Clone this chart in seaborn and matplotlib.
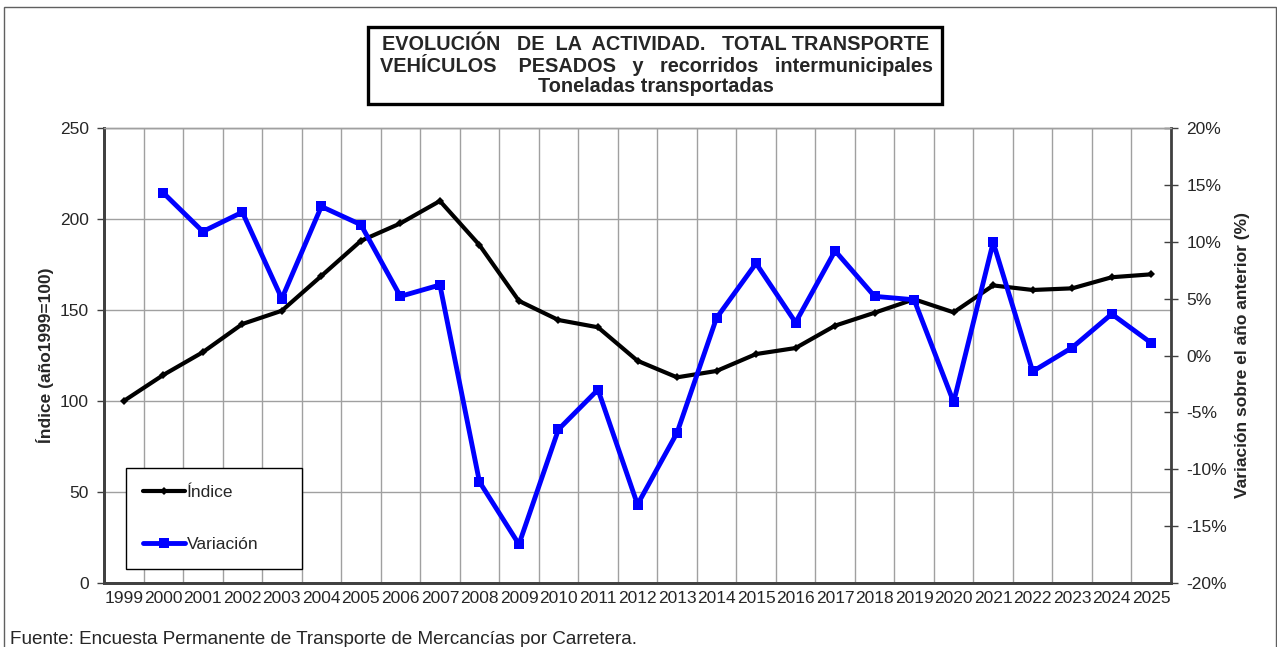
import numpy as np
import pandas as pd
import matplotlib
matplotlib.use("Agg")
import matplotlib.pyplot as plt
import matplotlib.patches as mpatches
from matplotlib.ticker import FuncFormatter, MultipleLocator
import seaborn as sns

# Data
years = list(range(1999, 2026))
indice = [100, 114.3, 126.8, 142.3, 149.6, 168.7, 188.0, 197.6, 209.9, 185.7,
          155.0, 144.5, 140.5, 122.1, 113.0, 116.5, 125.8, 129.1, 141.4, 148.5,
          155.9, 148.7, 163.5, 161.0, 161.9, 168.0, 169.6]
variacion = [np.nan, 14.3, 10.9, 12.6, 5.0, 13.1, 11.5, 5.2, 6.2, -11.1,
             -16.6, -6.5, -3.0, -13.1, -6.8, 3.3, 8.1, 2.9, 9.2, 5.2,
             4.9, -4.1, 9.95, -1.4, 0.7, 3.65, 1.1]

df = pd.DataFrame({"pos": np.arange(len(years)), "year": years,
                   "indice": indice, "variacion": variacion})

sns.set_theme(style="white")
plt.rcParams["font.family"] = ["Liberation Sans", "DejaVu Sans"]

fig = plt.figure(figsize=(12.77, 6.47), dpi=100)
ax = fig.add_axes([104 / 1277, 64 / 647, 1067 / 1277, 455 / 647])
ax2 = ax.twinx()

grid_col = "#a0a0a0"
axis_col = "#404040"
fs = 12.5

# Index line (left axis)
sns.lineplot(data=df, x="pos", y="indice", ax=ax, color="black", lw=3,
             marker="D", markersize=4, markeredgewidth=0, label="Índice",
             legend=False, zorder=3)
# Variation line (right axis)
sns.lineplot(data=df.dropna(), x="pos", y="variacion", ax=ax2, color="#0000ff",
             lw=3.5, marker="s", markersize=7, markeredgewidth=0,
             label="Variación", legend=False, zorder=3)

ax.set_xlim(-0.5, len(years) - 0.5)
ax.set_ylim(0, 250)
ax2.set_ylim(-20, 20)
ax.yaxis.set_major_locator(MultipleLocator(50))
ax2.yaxis.set_major_locator(MultipleLocator(5))
ax2.yaxis.set_major_formatter(FuncFormatter(lambda v, p: f"{v:.0f}%"))

# ticks at category boundaries, labels at centres
ax.set_xticks(np.arange(len(years) + 1) - 0.5)
ax.set_xticklabels([])
ax.set_xticks(np.arange(len(years)), minor=True)
ax.set_xticklabels([str(y) for y in years], minor=True, fontsize=fs)
ax.tick_params(axis="x", which="minor", length=0, pad=6)
ax.tick_params(axis="x", which="major", direction="out", length=5, width=1, color=axis_col)
ax.tick_params(axis="y", direction="out", length=5, width=1, color=axis_col,
               labelsize=fs, pad=6)
ax2.tick_params(axis="y", direction="inout", length=10, width=1, color=axis_col,
                labelsize=fs, pad=6)

ax.grid(True, which="major", color=grid_col, lw=1)
ax.set_axisbelow(True)
ax2.grid(False)

for a in (ax, ax2):
    for s in ("left", "right", "bottom"):
        a.spines[s].set_color(axis_col)
        a.spines[s].set_linewidth(2)
    a.spines["top"].set_color(grid_col)
    a.spines["top"].set_linewidth(1)
ax.spines["right"].set_visible(False)

ax.set_xlabel("")
ax.set_ylabel("Índice (año1999=100)", fontsize=fs, fontweight="bold", labelpad=4)
ax2.set_ylabel("Variación sobre el año anterior (%)", fontsize=fs,
               fontweight="bold", labelpad=6)

# Legend (drawn on top axis, with handles from both)
h1, l1 = ax.get_legend_handles_labels()
h2, l2 = ax2.get_legend_handles_labels()
leg = ax2.legend(h1 + h2, l1 + l2, loc="lower left",
                 bbox_to_anchor=(22 / 1067, 14 / 455, 176 / 1067, 102 / 455),
                 mode="expand", borderaxespad=0, fontsize=fs, labelspacing=2.1,
                 handlelength=2.4, handletextpad=0.1, borderpad=1.0,
                 fancybox=False, framealpha=1, edgecolor="black")
leg.get_frame().set_linewidth(1)

# Title box
fig.patches.append(mpatches.Rectangle((368 / 1277, 543 / 647), 574 / 1277, 77 / 647,
                                      transform=fig.transFigure, fill=False,
                                      edgecolor="black", lw=2.4))
title_lines = ["EVOLUCIÓN   DE  LA  ACTIVIDAD.   TOTAL TRANSPORTE",
               "VEHÍCULOS    PESADOS   y   recorridos   intermunicipales",
               "Toneladas transportadas"]
for i, line in enumerate(title_lines):
    fig.text(656 / 1277, (647 - 44 - 21.5 * i) / 647, line, ha="center", va="center",
             fontsize=14.3, fontweight="bold")

# Outer border
fig.patches.append(mpatches.Rectangle((4 / 1277, -0.05), 1272 / 1277, 0.05 + 640 / 647,
                                      transform=fig.transFigure, fill=False,
                                      edgecolor="#606060", lw=1))

fig.text(10 / 1277, (647 - 639) / 647,
         "Fuente: Encuesta Permanente de Transporte de Mercancías por Carretera.",
         ha="left", va="center", fontsize=13.6)

fig.savefig("out.png", dpi=100)
